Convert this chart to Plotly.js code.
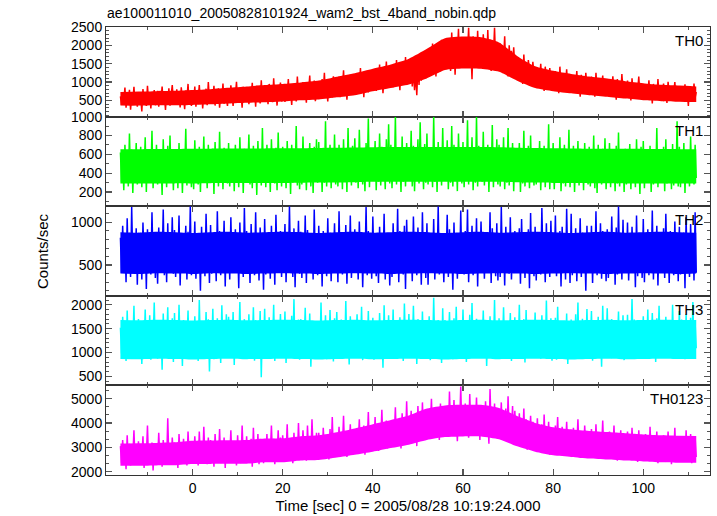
<!DOCTYPE html>
<html>
<head>
<meta charset="utf-8">
<script src="https://cdn.plot.ly/plotly-3.0.1.min.js"></script>
<style>
html,body{margin:0;padding:0;background:#fff;}
#chart{width:717px;height:516px;}
</style>
</head>
<body>
<div id="chart"></div>
<script>
// Sampling grid of the light curve (seconds from 2005/08/28 10:19:24)
const T_START = -16;
const T_STEP = 0.25;

const panelLabels = ["TH0", "TH1", "TH2", "TH3", "TH0123"];
const panelColors = ["#ff0000", "#00ff00", "#0000ff", "#00ffff", "#ff00ff"];

// Samples (each row = 4 s)
const TH0 = [
610,380,720,460,850,300,650,430,790,250,620,470,870,390,560,330,
700,420,590,200,810,480,640,350,900,460,720,280,680,510,780,370,
480,760,330,690,520,880,410,620,240,750,450,830,360,580,920,440,
650,390,800,500,700,310,860,460,600,260,770,530,950,400,690,350,
720,450,880,330,640,530,920,400,760,280,690,480,820,370,1000,500,
430,780,560,900,360,700,490,830,300,660,540,960,410,740,580,350,
780,470,910,560,350,720,620,1010,440,820,510,690,300,870,590,760,
520,840,400,700,600,980,460,790,330,900,560,740,420,1050,510,680,
830,540,760,400,950,620,720,450,1100,580,800,360,880,650,990,470,
600,900,460,800,680,1080,520,760,380,940,610,850,470,1150,640,760,
900,560,1000,650,780,440,940,720,1180,540,860,620,1040,480,820,700,
640,960,560,1080,750,1250,600,880,470,1000,720,900,580,1160,690,850,
1020,700,1150,590,900,820,1320,640,1060,520,980,760,1200,660,940,780,
780,1150,680,1060,870,1380,740,1100,590,1240,900,1040,720,1300,830,1000,
1220,880,1330,760,1150,950,1480,820,1260,700,1190,990,1560,870,1100,940,
980,1370,860,1260,1050,1600,920,1330,780,1450,1090,1290,940,1680,1020,1240,
1400,1060,1520,880,1310,780,1220,640,1450,920,1600,1040,1350,1150,1780,1100,
1380,1850,1200,1700,1460,2050,1300,1760,1150,1940,1480,1660,1290,2150,1420,1820,
1950,1500,2200,1620,1850,1300,2350,1580,2050,1200,1980,1700,2450,1550,2100,1680,
1600,2150,1450,2000,1750,2480,1520,1900,1080,2250,1680,2050,1420,2400,1650,2000,
2050,1550,2300,1700,1950,1380,2420,1600,2150,1300,1900,1720,2480,1500,2100,1650,
1500,2050,1400,1900,1600,2250,1350,1780,1150,2000,1480,1850,1280,1950,1420,1700,
1520,1150,1650,1250,1400,950,1750,1180,1480,1050,1600,1300,1420,980,1550,1200,
1000,1350,880,1250,1060,1500,950,1200,760,1420,1030,1280,900,1380,980,1150,
1180,860,1300,940,1100,700,1420,900,1220,800,1080,960,1350,820,1150,920,
820,1120,740,1050,880,1300,780,1020,600,1200,850,1080,720,1250,860,1000,
1040,760,1150,830,980,600,1250,800,1060,700,980,850,1180,680,1020,840,
720,1000,640,930,780,1160,700,940,520,1080,760,960,650,1220,740,900,
920,680,1040,730,880,500,1100,720,960,600,900,760,1150,640,870,740,
620,880,560,830,690,1050,600,820,420,950,660,860,560,1080,640,800,
830,590,960,640,780,430,1010,650,870,530,800,690,1000,560,790,660,
560,800,500,760,620,940,540,740,350,880,600,790,500,960,580,730
];

const TH1 = [
620,310,540,220,700,380,580,260,820,350,650,190,600,400,720,280,
560,330,680,250,610,390,780,200,640,300,560,360,850,240,590,340,
700,280,620,410,540,170,760,320,600,250,690,380,800,300,570,220,
650,360,580,240,720,310,640,190,590,400,870,270,630,330,560,250,
610,230,750,350,560,280,680,200,630,390,790,300,570,240,700,360,
580,320,660,180,730,340,610,260,840,310,600,230,670,380,560,290,
720,260,590,370,640,210,700,330,560,250,780,350,620,190,660,310,
600,390,810,280,570,240,690,320,630,170,740,360,590,270,880,300,
640,250,700,330,580,200,760,380,610,290,670,220,830,340,600,260,
680,320,560,240,740,370,620,180,700,300,590,350,900,270,650,230,
590,280,790,350,640,220,580,330,720,260,610,190,680,370,760,300,
730,340,600,200,670,300,950,260,620,380,700,240,580,320,810,280,
620,260,700,370,590,230,760,310,640,200,880,340,610,270,690,330,
770,300,620,240,860,360,650,280,590,210,720,390,980,250,630,320,
650,350,740,220,600,310,820,270,680,380,580,230,760,340,920,290,
700,240,610,330,1000,280,660,370,590,200,790,310,640,260,720,350,
600,330,850,260,690,210,620,380,760,290,940,340,580,230,710,300,
820,280,640,360,580,250,1000,310,670,200,730,350,610,270,880,330,
660,370,750,230,620,300,900,260,700,340,590,210,820,380,640,290,
730,250,600,330,960,280,650,360,780,220,620,300,1000,260,690,340,
610,310,840,270,590,380,700,200,650,330,910,250,620,350,760,280,
700,260,620,340,780,230,590,300,880,270,640,360,720,210,600,320,
640,350,720,200,610,290,850,260,570,330,690,240,800,310,620,270,
590,280,660,370,740,220,600,320,690,250,580,360,920,230,650,300,
720,230,600,310,640,350,780,210,570,290,700,260,620,340,860,250,
610,340,690,200,580,300,740,270,650,360,600,220,720,310,590,280,
680,260,590,330,800,240,620,190,700,350,560,280,660,300,770,230,
570,310,720,250,640,370,580,210,690,290,830,260,600,340,620,200,
660,280,590,360,710,230,640,300,570,250,760,330,610,180,680,310,
740,240,620,310,580,350,690,200,640,280,600,330,880,250,590,300,
600,320,680,210,760,290,570,350,650,230,710,270,590,330,950,260,
680,250,600,340,720,190,640,300,580,260,790,320,610,280,700,350
];

const TH2 = [
820,410,960,530,750,300,1050,480,880,360,1180,520,790,420,930,270,
880,450,760,330,1000,560,840,220,920,480,780,390,1120,510,860,350,
760,280,940,470,810,540,1150,380,870,300,990,450,740,520,1060,400,
910,360,800,490,1080,260,850,430,760,550,960,330,890,470,1190,380,
780,510,1010,340,870,420,740,200,950,480,820,370,1100,530,800,290,
970,400,850,560,760,310,1130,460,900,380,790,520,1020,250,880,440,
830,330,1060,480,790,410,920,540,760,230,1000,450,860,360,1170,500,
900,470,780,290,980,520,840,380,1120,440,770,320,940,560,810,210,
1040,390,870,500,760,340,960,450,820,270,1090,530,790,410,900,360,
760,520,980,300,850,430,1190,480,800,360,930,240,870,510,1020,400,
890,350,790,470,1080,290,910,540,770,420,860,330,1150,460,830,380,
960,440,830,250,900,510,760,370,1050,480,880,310,790,550,990,420,
810,300,1130,460,860,390,750,520,970,280,840,430,1080,350,780,500,
920,410,790,330,1010,560,870,240,820,470,1180,380,900,450,760,340,
1070,480,850,370,780,290,950,500,820,420,1100,330,870,510,800,260,
780,360,990,540,840,410,1160,300,900,460,770,390,960,220,1030,480,
880,430,760,310,1070,490,830,380,940,550,790,270,1120,440,860,350,
990,270,870,500,780,420,1040,330,810,470,1190,390,850,520,760,300,
840,530,1090,360,920,440,770,210,1000,480,860,340,790,410,1140,450,
760,390,900,470,1150,300,830,520,960,380,780,460,1050,250,880,420,
1010,480,820,340,880,550,760,410,1120,290,930,450,800,370,990,320,
870,360,1180,430,790,260,950,500,840,400,1060,330,770,540,900,440,
800,510,930,280,1040,450,860,350,780,490,920,230,1110,410,830,370,
950,320,800,460,870,390,1170,540,760,300,990,440,850,360,1020,480,
830,430,1080,370,760,500,900,250,950,420,800,330,1160,470,870,290,
1100,380,840,520,930,310,790,450,1050,360,880,490,770,200,960,410,
790,470,960,290,850,430,1130,380,820,520,990,340,900,450,760,310,
920,350,780,440,1070,500,860,270,940,390,1190,460,800,330,1030,420,
860,490,1000,320,780,410,950,530,830,240,1080,370,880,460,790,350,
1040,300,870,480,920,380,770,440,1140,330,850,510,960,260,820,430,
780,420,930,350,1100,470,840,290,900,530,760,380,1010,450,870,310,
950,390,820,500,880,230,1060,440,790,360,980,480,850,320,1120,410
];

const TH3 = [
1520,980,1750,1150,1400,820,1880,1050,1600,900,1450,1180,1980,960,1650,1100,
1700,1000,1450,760,1620,1120,1900,950,1500,1080,1780,850,1420,1200,2050,1020,
1480,870,1680,1100,1550,640,1820,990,1400,1160,1950,910,1600,1060,1720,800,
1830,1040,1420,930,2000,1130,1560,720,1680,1000,1450,1190,1880,880,1530,1070,
1600,950,1760,1170,1480,820,2100,1030,1620,900,1400,1120,1850,980,1700,600,
1450,1080,1920,860,1580,1010,1720,1150,1500,780,1990,1060,1430,940,1800,1110,
1750,900,1520,1130,1850,740,1640,1020,1420,1180,2060,870,1560,1000,1700,960,
1530,1060,1800,970,1460,1140,1950,830,1680,920,1490,1090,1870,480,1610,1030,
1920,880,1570,1100,1740,950,1440,1170,2000,820,1650,1010,1500,1150,1810,910,
1480,1040,1860,780,1620,1120,1400,960,1770,1080,2120,900,1550,1020,1690,850,
1700,990,1450,1160,1940,870,1580,1060,1820,700,1520,1130,1660,940,1480,1100,
1600,920,2050,1040,1500,1180,1780,860,1450,1000,1890,1090,1560,810,1720,1140,
1850,1070,1530,890,1690,1150,1420,980,2080,1040,1600,750,1760,1110,1500,960,
1470,1120,1800,940,1580,1030,1960,840,1660,1170,1440,1000,1870,900,1620,1080,
1730,850,1620,1140,1480,960,1830,1080,1550,680,1990,1020,1460,1160,1780,930,
1560,1000,1900,880,1650,1130,1430,970,1740,1060,1520,820,2030,1120,1590,990,
1810,940,1470,1090,1980,1010,1600,760,1700,1150,1450,930,1860,1040,1530,870,
1500,1110,1760,840,1580,990,2150,1070,1440,910,1680,1160,1550,780,1930,1020,
1680,900,1540,1130,1850,1000,1470,860,1720,1080,1960,950,1600,1120,1430,1040,
1900,1060,1620,800,1500,1140,1790,970,2040,1020,1530,890,1710,1170,1580,920,
1450,1150,1880,990,1650,720,1540,1100,1760,930,1470,1060,2100,870,1640,1010,
1720,880,1500,1120,1950,1040,1620,960,1430,1180,1830,820,1560,1090,1740,940,
1580,1050,2000,900,1480,1160,1700,790,1890,1020,1520,1110,1660,950,1450,1070,
1840,960,1610,1130,1450,870,1780,1060,1560,940,2090,1000,1490,1150,1720,830,
1510,1090,1730,850,1960,1010,1470,1170,1640,900,1550,1040,1820,760,1600,1120,
1690,920,1440,1060,1800,970,2050,880,1530,1140,1710,1000,1460,1080,1910,950,
1560,1130,1870,830,1620,1050,1490,1180,1750,920,1580,700,1980,1040,1520,1090,
1930,990,1540,1100,1700,890,1610,1020,1460,1160,1860,960,1570,1070,1780,840,
1480,1070,1790,940,1550,1170,2120,1000,1690,870,1510,1110,1640,990,1470,1150,
1760,870,1640,1050,1900,960,1500,1130,1830,1010,1600,800,1720,1080,1980,930,
1620,1100,1480,920,1750,1040,1570,1190,1440,950,2000,1060,1660,890,1530,1120,
1870,960,1690,1080,1520,860,1800,1010,1590,1150,1730,940,2060,1030,1620,1090
];

const TH0123 = [
3050,2350,3300,2550,2950,2100,3500,2450,3150,2250,2900,2600,3700,2400,3100,2500,
3250,2300,2900,2550,3450,2150,3050,2600,3900,2350,3000,2500,3200,2050,2950,2450,
2950,2400,3600,2550,3100,2200,3300,2650,2900,2350,4200,2500,3150,2300,3400,2600,
3200,2450,2900,2150,3550,2600,3050,2350,3350,2500,2950,2250,3650,2550,3100,2400,
3100,2450,3450,2650,3000,2250,3650,2550,3250,2400,3850,2600,3050,2300,3400,2550,
3300,2500,3000,2200,3550,2650,3150,2450,3750,2350,3050,2600,3400,2150,3200,2500,
3050,2550,3700,2400,3250,2600,2950,2250,3500,2500,3150,2350,3900,2650,3100,2450,
3450,2400,3100,2650,3350,2200,3800,2550,3050,2450,3550,2300,3200,2600,3000,2350,
3250,2600,3550,2450,3150,2700,3900,2500,3350,2300,3100,2650,3700,2550,3400,2400,
3500,2550,3200,2750,3950,2450,3300,2650,3050,2350,3600,2600,3250,2500,4000,2700,
3350,2650,3700,2800,3250,2450,3900,2750,3450,2600,4150,2850,3300,2550,3600,2700,
3600,2750,3300,2550,3800,2900,3400,2650,3200,2500,3750,2800,4250,2600,3450,2750,
3500,2900,3850,2700,3400,3000,4300,2800,3650,2600,3550,2950,3950,2750,3450,2850,
3700,2950,3500,3100,4150,2800,3650,3050,3900,2700,3550,3150,4450,2900,3750,3000,
3800,3150,4250,3000,3700,2850,3950,3200,4550,3050,3750,3300,4100,2950,3850,3150,
4000,3250,3800,3400,4650,3100,4150,3350,3900,2950,4400,3300,3850,3200,4900,3350,
4150,3400,4500,3200,3950,3550,4300,3050,4700,3450,4050,3300,4850,3500,4200,3350,
4400,3600,4200,3750,5000,3450,4350,3800,4650,3550,4250,3300,4800,3700,4500,3600,
4600,3700,4400,3450,5300,3800,4500,3600,4950,3750,4350,3250,4700,3850,5500,3650,
4450,3550,4800,3850,4350,3400,5200,3700,4600,3500,4400,3900,5050,3600,4500,3300,
4700,3750,4450,3500,4900,3850,4350,3150,5400,3700,4550,3600,4800,3450,4400,3800,
4400,3600,4850,3450,4250,3700,4600,3350,5100,3550,4300,3650,4700,3250,4500,3500,
4050,3300,4400,3150,3950,3400,4600,3200,4150,2900,3900,3350,4300,3100,4050,3250,
3800,3100,4200,2950,3750,3200,3950,2800,4350,3050,3650,3150,4050,2700,3800,3100,
3650,2950,3900,3100,4250,2850,3600,3050,3850,2700,3550,3000,4050,2900,3700,2950,
3550,2900,3800,2700,3500,3050,4150,2850,3600,2950,3450,2600,3900,3000,3650,2800,
3500,2800,3750,2950,3400,2650,3950,2850,3550,2750,3300,2900,4100,2700,3600,2850,
3450,2750,3650,2600,3350,2900,3900,2700,3500,2450,3250,2850,3700,2650,3400,2800,
3400,2700,3650,2850,3300,2550,3800,2750,3450,2650,3250,2400,3700,2800,3350,2700,
3300,2650,3550,2750,3250,2450,3850,2700,3400,2550,3150,2800,3650,2350,3300,2650,
3250,2600,3500,2450,3200,2700,3650,2550,3350,2300,3100,2650,3800,2500,3250,2600,
3300,2550,3450,2700,3150,2400,3700,2600,3250,2500,3550,2350,3150,2650,3400,2600
];

// Dense band of each light curve (where the samples merge into solid colour)
const coreTime = [-16,-12,-8,-4,0,4,8,12,16,20,24,28,32,36,40,44,48,52,56,60,64,68,72,76,80,84,88,92,96,100,104,108,111.75];

const TH0_low  = [359,359,369,369,378,393,418,438,452,472,502,525,584,643,751,840,935,1105,1328,1368,1363,1280,1038,840,753,693,644,599,550,505,481,466,456];
const TH0_high = [731,741,751,761,783,808,843,878,919,949,989,1040,1146,1243,1364,1480,1635,1905,2193,2238,2218,2080,1713,1430,1308,1223,1151,1096,1025,970,924,904,879];

const TH1_low  = [290,290,290,292,292,294,295,295,296,296,298,300,302,305,308,310,310,310,310,310,310,308,304,300,297,295,294,293,292,291,290,290,290];
const TH1_high = [655,655,657,657,659,660,661,662,663,664,665,667,669,672,675,677,677,677,677,677,677,675,671,667,664,662,660,659,658,657,656,655,655];

const TH2_low  = [400,395,405,400,395,405,400,395,400,405,400,395,400,405,400,395,400,405,400,395,400,405,400,395,400,405,400,395,400,405,400,395,400];
const TH2_high = [885,880,890,885,875,885,890,880,885,890,885,875,885,890,880,885,890,885,875,885,890,880,885,890,885,875,885,890,880,885,890,885,880];

const TH3_low  = [865,860,870,865,855,865,870,860,865,870,865,855,865,870,860,865,870,865,855,865,870,860,865,870,865,855,865,870,860,865,870,865,865];
const TH3_high = [1680,1675,1685,1680,1670,1680,1690,1675,1680,1685,1680,1670,1680,1690,1675,1680,1685,1680,1670,1680,1690,1675,1680,1685,1680,1670,1680,1690,1675,1680,1685,1680,1680];

const TH0123_low  = [2245,2245,2255,2260,2310,2315,2320,2325,2380,2385,2460,2480,2580,2695,2820,2970,3110,3305,3425,3450,3450,3330,3040,2820,2670,2605,2535,2495,2455,2420,2385,2365,2360];
const TH0123_high = [3155,3165,3180,3205,3270,3280,3290,3300,3360,3370,3455,3495,3620,3780,3955,4130,4315,4595,4725,4750,4750,4620,4285,4005,3830,3740,3670,3630,3580,3530,3495,3475,3470];

const series = [TH0, TH1, TH2, TH3, TH0123];
const coreLow = [TH0_low, TH1_low, TH2_low, TH3_low, TH0123_low];
const coreHigh = [TH0_high, TH1_high, TH2_high, TH3_high, TH0123_high];

const yRanges = [[60, 2500], [50, 1000], [140, 1190], [310, 2190], [1860, 5550]];
const yMajor = [500, 200, 500, 500, 1000];
const yMinor = [100, 100, 100, 100, 1000 / 3];

const FONT = "Liberation Sans, Arial, Helvetica, sans-serif";
const time = TH0.map((_, i) => T_START + i * T_STEP);

const traces = [];
series.forEach((vals, k) => {
  const xa = k === 0 ? "x" : "x" + (k + 1);
  const ya = k === 0 ? "y" : "y" + (k + 1);
  traces.push({
    type: "scatter", mode: "lines", x: coreTime, y: coreLow[k],
    xaxis: xa, yaxis: ya, line: { color: panelColors[k], width: 0, shape: "spline", smoothing: 0.6 },
    hoverinfo: "skip", showlegend: false
  });
  traces.push({
    type: "scatter", mode: "lines", x: coreTime, y: coreHigh[k],
    xaxis: xa, yaxis: ya, line: { color: panelColors[k], width: 0, shape: "spline", smoothing: 0.6 },
    fill: "tonexty", fillcolor: panelColors[k],
    hoverinfo: "skip", showlegend: false
  });
  traces.push({
    type: "scatter", mode: "lines", x: time.slice(0, vals.length), y: vals,
    xaxis: xa, yaxis: ya, line: { color: panelColors[k], width: 1.5 },
    hoverinfo: "skip", showlegend: false
  });
});

const layout = {
  width: 717,
  height: 516,
  margin: { l: 106, r: 7, t: 27, b: 41 },
  paper_bgcolor: "#ffffff",
  plot_bgcolor: "#ffffff",
  font: { family: FONT, size: 14, color: "#000" },
  showlegend: false,
  title: {
    text: "ae100011010_20050828101924_wam2_bst_4band_nobin.qdp",
    x: 107 / 717, xref: "container", xanchor: "left",
    y: 1 - 13 / 516, yref: "container", yanchor: "middle",
    font: { family: FONT, size: 14, color: "#000" }
  },
  annotations: [],
};

const n = series.length;
for (let k = 0; k < n; k++) {
  const sx = k === 0 ? "" : String(k + 1);
  const top = 1 - k / n, bot = 1 - (k + 1) / n;
  layout["yaxis" + sx] = {
    domain: [bot, top],
    anchor: "x" + sx,
    range: yRanges[k],
    dtick: yMajor[k],
    tick0: 0,
    ticks: "inside",
    ticklen: 6,
    tickwidth: 1.2,
    tickcolor: "#555",
    minor: { dtick: yMinor[k], tick0: k === 4 ? 2000 : 0, ticks: "inside", ticklen: 3, tickwidth: 1, tickcolor: "#555" },
    showline: true, linecolor: "#333", linewidth: 1,
    mirror: "ticks",
    showgrid: false, zeroline: false,
    tickfont: { family: FONT, size: 14, color: "#000" }
  };
  layout["xaxis" + sx] = {
    anchor: "y" + sx,
    matches: k === 0 ? undefined : "x",
    range: [-19.2, 114.8],
    dtick: 20,
    tick0: 0,
    ticks: "inside",
    ticklen: 6,
    tickwidth: 1.2,
    tickcolor: "#555",
    minor: { dtick: 10, ticks: "inside", ticklen: 3, tickwidth: 1, tickcolor: "#555" },
    showline: true, linecolor: "#333", linewidth: 1,
    mirror: "ticks",
    showgrid: false, zeroline: false,
    showticklabels: k === n - 1,
    tickfont: { family: FONT, size: 14, color: "#000" }
  };
  if (k === n - 1) {
    layout["xaxis" + sx].title = {
      text: "Time [sec] 0 = 2005/08/28 10:19:24.000",
      font: { family: FONT, size: 15, color: "#000" },
      standoff: 5
    };
  }
  layout.annotations.push({
    text: panelLabels[k],
    xref: "paper", x: 1, xanchor: "right", xshift: -5,
    yref: "y" + sx + " domain", y: 1, yanchor: "top", yshift: -3,
    showarrow: false,
    font: { family: FONT, size: 15, color: "#000" }
  });
}

layout.annotations.push({
  text: "Counts/sec",
  xref: "paper", x: -64 / 604, xanchor: "center",
  yref: "paper", y: 0.5, yanchor: "middle",
  textangle: -90, showarrow: false,
  font: { family: FONT, size: 15, color: "#000" }
});

Plotly.newPlot("chart", traces, layout, { displayModeBar: false, staticPlot: true });
</script>
</body>
</html>
